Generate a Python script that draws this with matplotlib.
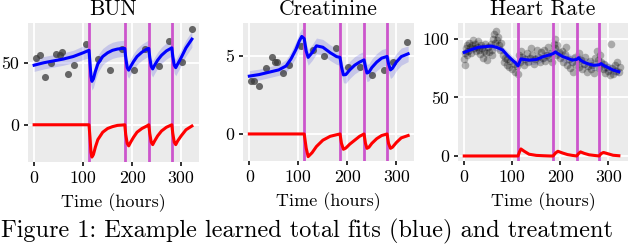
import numpy as np
import matplotlib
matplotlib.use("Agg")
import matplotlib.pyplot as plt

plt.rcParams['font.family'] = 'cmr10'
plt.rcParams['mathtext.fontset'] = 'cm'
plt.rcParams['axes.unicode_minus'] = False

# treatment times (hours)
treat_times = [112, 185, 234, 281]

# ---------------- BUN ----------------
bun_pts_t = [4, 11, 22, 34, 45, 52, 56, 70, 82, 106, 131, 154, 179, 203, 226, 254, 276, 301, 323]
bun_pts_y = [53.8, 55.9, 38.4, 49.7, 57.3, 56.2, 58.3, 40.9, 47.8, 65, 53, 43.8, 61, 44.4, 61, 47.6, 67.2, 50.2, 77.2]

bun_t = [0, 20, 40, 60, 80, 100, 112, 114, 116, 118, 121, 125, 130, 140, 150, 160, 170, 180,
         185, 187, 190, 193, 197, 203, 210, 220, 230, 234, 236, 239, 242, 246, 252, 260, 270,
         281, 283, 286, 289, 293, 300, 310, 322]
bun_fit = [48, 50, 51.5, 53, 55, 58, 60, 50, 39, 35, 37, 43, 49, 55, 58, 60, 61, 61.5,
           61.5, 54, 46, 44, 47, 51, 55, 58.5, 61, 61.5, 54, 47, 45, 48, 52, 56, 59.5,
           62, 55, 48, 46, 49, 54, 62, 69]
bun_band = [5, 5, 5, 5, 5, 5.5, 6, 6.5, 7, 7, 7, 7, 7, 6.5, 6.5, 6.5, 6.5, 6.5,
            6.5, 6.5, 6.5, 6.5, 6.5, 6.5, 6.5, 6.5, 6.5, 6.5, 6.5, 6.5, 6.5, 6.5, 6.5, 6.5, 6.5,
            6.5, 6.5, 6.5, 6.5, 6.5, 6.5, 6.5, 6.5]
bun_treat = [0, 0, 0, 0, 0, 0, 0, -10, -22, -26, -24, -18, -12, -6, -3, -1.5, -0.5, -0.2,
             0, -8, -15, -17, -14, -10, -6, -3, -1, 0, -7, -14, -16, -13, -9, -5, -2,
             0, -7, -14, -16, -13, -9, -4, -1]

# ---------------- Creatinine ----------------
cr_pts_t = [3, 10, 20, 34, 46, 52, 56, 69, 81, 105, 129, 153, 177, 202, 226, 251, 274, 294, 321]
cr_pts_y = [3.4, 3.4, 3.1, 4.2, 4.9, 4.6, 4.6, 3.9, 4.4, 5.6, 5.4, 5.0, 5.5, 4.3, 4.3, 3.8, 4.1, 4.6, 5.9]

cr_t = [0, 20, 40, 60, 75, 85, 95, 102, 107, 112, 116, 120, 128, 137, 150, 165, 178,
        185, 188, 192, 197, 205, 215, 225, 234, 237, 240, 244, 250, 260, 270, 281,
        284, 288, 292, 300, 310, 324]
cr_fit = [3.7, 3.8, 3.95, 4.1, 4.35, 4.8, 5.4, 5.95, 6.24, 6.1, 5.3, 4.9, 5.2, 5.64, 5.55, 5.2, 4.95,
          4.9, 4.3, 3.78, 3.8, 4.1, 4.4, 4.6, 4.74, 4.3, 3.9, 3.95, 4.25, 4.6, 4.85, 4.96,
          4.5, 4.1, 4.2, 4.6, 4.95, 5.13]
cr_band = [0.35, 0.35, 0.35, 0.35, 0.4, 0.45, 0.5, 0.5, 0.5, 0.5, 0.5, 0.5, 0.5, 0.5, 0.5, 0.5, 0.5,
           0.5, 0.5, 0.5, 0.55, 0.55, 0.55, 0.55, 0.55, 0.55, 0.55, 0.55, 0.55, 0.55, 0.55, 0.55,
           0.55, 0.55, 0.55, 0.55, 0.55, 0.5]
cr_treat = [0, 0, 0, 0, 0, 0, 0, 0, 0, 0, -0.9, -1.45, -1.2, -0.8, -0.4, -0.15, -0.05,
            0, -0.6, -0.98, -0.9, -0.65, -0.4, -0.15, 0, -0.6, -0.92, -0.85, -0.6, -0.3, -0.1, 0,
            -0.6, -0.92, -0.85, -0.55, -0.25, -0.1]

# ---------------- Heart Rate ----------------
hr_pts_t = [0, 1, 2, 3, 5, 6, 8, 10, 12, 14, 16, 18, 20,
            22, 24, 26, 28, 30, 33, 35, 38, 40, 42, 44, 46, 48, 50, 52, 55, 57, 58,
            60, 62, 64, 66, 68, 70, 72, 74, 76,
            80, 82, 85, 88, 90, 93, 96, 100, 103, 106, 109, 111,
            114, 116, 118, 121, 124, 127, 130, 133, 136, 139, 142, 145, 148, 151, 154, 157,
            160, 163, 166, 169, 172, 175, 178, 181, 183,
            186, 188, 190, 192, 194, 197, 200, 203, 206, 209, 212, 215, 218, 221, 224, 227, 230, 233,
            236, 238, 240, 243, 246, 249, 252, 255, 258, 261, 264, 267, 270, 273, 276, 278, 280,
            283, 285, 288, 291, 294, 297, 300, 303, 305, 307, 310, 313, 316, 319, 322, 324]
hr_pts_y = [83, 88, 78, 92, 95, 86, 90, 97, 93, 88, 95, 99, 92,
            96, 90, 93, 98, 91, 87, 95, 92, 84, 90, 96, 88, 82, 93, 89, 96, 91, 86,
            100, 104, 97, 107, 99, 102, 95, 91, 97,
            86, 80, 84, 78, 83, 76, 81, 74, 79, 72, 77, 70,
            86, 80, 90, 85, 78, 83, 88, 80, 84, 92, 86, 79, 83, 91, 85, 80,
            89, 84, 91, 81, 86, 93, 84, 88, 80,
            96, 92, 100, 86, 95, 89, 84, 90, 80, 87, 93, 78, 83, 75, 80, 72, 85, 78,
            83, 88, 76, 82, 74, 79, 85, 72, 77, 81, 74, 78, 71, 84, 90, 82, 75,
            86, 80, 74, 79, 71, 76, 73, 69, 96, 75, 70, 78, 73, 80, 72, 76]

hr_t = [0, 15, 30, 45, 57, 70, 80, 90, 100, 106, 112, 115, 118, 125, 135, 150, 165, 178,
        185, 190, 195, 205, 215, 225, 234, 238, 242, 250, 260, 270, 281, 285, 290, 300, 310, 322]
hr_fit = [88.6, 91, 93, 93.5, 94, 92.5, 90.6, 86, 82, 80, 77, 80, 83, 82.5, 82, 82.5, 85, 86.5,
          87.5, 89, 87.5, 85, 83.5, 82, 82.5, 84, 82, 80, 78.5, 77.5, 78, 79, 77.5, 75.5, 73.5, 72]
hr_band = [3, 3, 3, 3, 3, 3, 3, 3.5, 3.5, 3.5, 4, 4, 4, 4, 4, 4, 4, 4,
           4, 4, 4, 4.5, 4.5, 4.5, 4.5, 4.5, 4.5, 4.5, 4.5, 4.5, 4.5, 4.5, 4.5, 4.5, 4, 3.5]
hr_treat = [0, 0, 0, 0, 0, 0, 0, 0, 0, 0, 0, 3.5, 6, 4, 1.5, 0.5, 0.2, 0,
            0, 2.5, 4, 2.5, 1.2, 0.5, 0, 2, 3.5, 2.2, 1, 0.5, 0, 2, 3, 1.8, 0.6, 0.2]

panels = [
    dict(title='BUN', pts_t=bun_pts_t, pts_y=bun_pts_y, t=bun_t, fit=bun_fit, band=bun_band,
         treat=bun_treat, ylim=(-30, 82), yticks=[0, 50], xlim=(-12.5, 336.5),
         pos=[28 / 628, 82 / 244, 171 / 628, 139 / 244], dense=False),
    dict(title='Creatinine', pts_t=cr_pts_t, pts_y=cr_pts_y, t=cr_t, fit=cr_fit, band=cr_band,
         treat=cr_treat, ylim=(-1.73, 7.1), yticks=[0, 5], xlim=(-12.9, 336),
         pos=[243 / 628, 83 / 244, 171 / 628, 138 / 244], dense=False),
    dict(title='Heart Rate', pts_t=hr_pts_t, pts_y=hr_pts_y, t=hr_t, fit=hr_fit, band=hr_band,
         treat=hr_treat, ylim=(-4.3, 113.7), yticks=[0, 50, 100], xlim=(-13, 341),
         pos=[458 / 628, 83 / 244, 170 / 628, 138 / 244], dense=True),
]

fig = plt.figure(figsize=(6.28, 2.44), dpi=100)

for p in panels:
    ax = fig.add_axes(p['pos'])
    ax.set_facecolor('#EBEBEB')
    for s in ax.spines.values():
        s.set_visible(False)
    ax.set_xlim(*p['xlim'])
    ax.set_ylim(*p['ylim'])
    ax.set_xticks([0, 100, 200, 300])
    ax.set_yticks(p['yticks'])
    ax.grid(True, color='white', linewidth=1.3, zorder=0)
    ax.set_axisbelow(True)
    ax.tick_params(length=3, width=1.3, color='#222222', labelsize=12.8, pad=3.5)

    t = np.array(p['t'])
    fit = np.array(p['fit'])
    band = np.array(p['band'])
    ax.fill_between(t, fit - band, fit + band, color='#3333DD', alpha=0.2, linewidth=0, zorder=1)
    if p['dense']:
        ax.scatter(p['pts_t'], p['pts_y'], s=30, color='black', alpha=0.28, linewidth=0, zorder=2)
    else:
        ax.scatter(p['pts_t'], p['pts_y'], s=26, color='#3a3a3a', alpha=0.75, linewidth=0, zorder=2)
    for tt in treat_times:
        ax.axvline(tt, color='#CC55CC', linewidth=2.0, zorder=3)
    ax.plot(t, fit, color='blue', linewidth=2.2, zorder=4)
    ax.plot(t, p['treat'], color='red', linewidth=2.2, zorder=4)
    ax.set_title(p['title'], fontsize=15.5, pad=6)
    ax.set_xlabel('Time (hours)', fontsize=13, labelpad=5)

fig.text(1 / 628, 7 / 244, 'Figure 1: Example learned total fits (blue) and treatment',
         fontsize=17.5, ha='left', va='baseline')

fig.savefig('out.png', dpi=100)
